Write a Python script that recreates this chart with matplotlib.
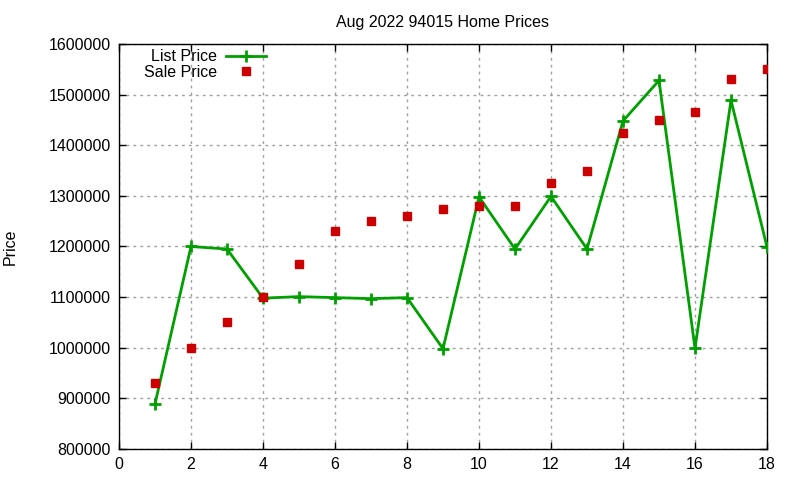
import numpy as np
import matplotlib
matplotlib.use('Agg')
import matplotlib.pyplot as plt
from matplotlib.ticker import FuncFormatter, MultipleLocator

plt.rcParams['font.family'] = ['Liberation Sans', 'DejaVu Sans']
plt.rcParams['font.size'] = 11.5

# ---------- data ----------
months = np.arange(1, 19)
list_price = [889000, 1200000, 1195000, 1098000, 1101000, 1099000, 1097000, 1099000, 998000,
              1298000, 1195000, 1299000, 1195000, 1448000, 1528000, 999000, 1489000, 1199000]
sale_price = [930000, 1000000, 1050000, 1100000, 1165000, 1230000, 1250000, 1260000, 1275000,
              1280000, 1280000, 1325000, 1350000, 1425000, 1450000, 1465000, 1530000, 1550000]

# ---------- plot ----------
fig = plt.figure(figsize=(8, 4.8), dpi=100)
ax = fig.add_axes([119 / 800, 1 - 449 / 480, (767 - 119) / 800, (449 - 44) / 480])

ax.plot(months, list_price, color='#00a000', linewidth=2, marker='+',
        markersize=8, markeredgewidth=2, label='List Price', zorder=3)
ax.plot(months, sale_price, linestyle='none', marker='s', color='#cc0000',
        markersize=5.5, label='Sale Price', zorder=4)

ax.set_xlim(0, 18)
ax.set_ylim(800000, 1600000)
ax.xaxis.set_major_locator(MultipleLocator(2))
ax.yaxis.set_major_locator(MultipleLocator(100000))
ax.yaxis.set_major_formatter(FuncFormatter(lambda v, p: '%d' % v))
ax.tick_params(direction='in', top=True, right=True, length=5, width=1, pad=6)

ax.grid(True, color='#a0a0a0', linestyle=(0, (2, 3)), linewidth=1)
for s in ax.spines.values():
    s.set_linewidth(1)

ax.set_title('Aug 2022 94015 Home Prices', fontsize=11.5, pad=12)
ax.set_ylabel('Price', labelpad=22)

ax.legend(loc='upper right', bbox_to_anchor=((270 - 119) / 648, 0.997), frameon=False,
          markerfirst=False, handlelength=2.5, handletextpad=0.55, labelspacing=0.05,
          borderaxespad=0.0, borderpad=0.25)

plt.savefig('out.png', dpi=100)
plt.close()
